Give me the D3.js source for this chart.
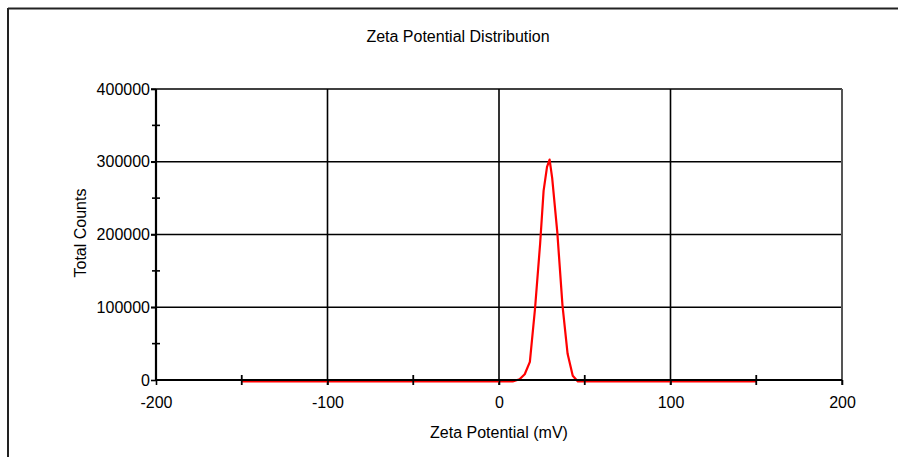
<!DOCTYPE html>
<html><head><meta charset="utf-8">
<script src="https://cdn.jsdelivr.net/npm/d3@7"></script>
<style>body{margin:0;background:#fff}svg{display:block}text{font-family:"Liberation Sans",Arial,sans-serif;fill:#000}</style>
</head><body><svg id="c" width="898" height="457"></svg>
<script>
const zetaMv = [-150, -100, -50, 0, 8, 12, 15, 18, 21, 24, 26, 28, 29.5, 31, 34, 37, 40, 43, 46, 50, 100, 150];
const totalCounts = [0, 0, 0, 0, 0, 3000, 10000, 27000, 100000, 190000, 262000, 295000, 305000, 280000, 205000, 105000, 38000, 8000, 0, 0, 0, 0];
const xTicks = [-200, -100, 0, 100, 200];
const xMinor = [-150, -50, 50, 150];
const yTicks = [0, 100000, 200000, 300000, 400000];
const yMinor = [50000, 150000, 250000, 350000];
const title = "Zeta Potential Distribution";
const xTitle = "Zeta Potential (mV)";
const yTitle = "Total Counts";

const FS = 16;
const svg = d3.select("#c");
const L = 156, R = 842, T = 89, B = 380;
const x = d3.scaleLinear().domain([-200, 200]).range([L, R]);
const y = d3.scaleLinear().domain([0, 400000]).range([B, T]);

// outer frame (top and left only)
svg.append("line").attr("x1", 8).attr("x2", 898).attr("y1", 8.5).attr("y2", 8.5).attr("stroke", "#222").attr("stroke-width", 2);
svg.append("line").attr("x1", 8).attr("x2", 8).attr("y1", 8).attr("y2", 457).attr("stroke", "#222").attr("stroke-width", 2);

// gridlines
const g = svg.append("g");
g.selectAll(".gx").data(xTicks.slice(1, -1)).join("line")
  .attr("x1", d => x(d)).attr("x2", d => x(d)).attr("y1", T).attr("y2", B + 5)
  .attr("stroke", "#000").attr("stroke-width", 1.6);
g.selectAll(".gy").data(yTicks.slice(1)).join("line")
  .attr("x1", L - 5).attr("x2", R).attr("y1", d => y(d)).attr("y2", d => y(d))
  .attr("stroke", "#000").attr("stroke-width", 1.6);
// right edge of plot
g.append("line").attr("x1", R).attr("x2", R).attr("y1", T).attr("y2", B + 5).attr("stroke", "#555").attr("stroke-width", 2);

// curve
const line = d3.line().x((d, i) => x(zetaMv[i])).y((d, i) => y(totalCounts[i]) + 1.5);
svg.append("path").datum(totalCounts).attr("d", line)
  .attr("fill", "none").attr("stroke", "#ff0000").attr("stroke-width", 2.2).attr("stroke-linejoin", "round");

// axes
const fmt = d => String(d);
const xAxis = d3.axisBottom(x).tickValues(xTicks).tickSize(5).tickPadding(12).tickFormat(fmt);
const ax = svg.append("g").attr("transform", `translate(0,${B})`).call(xAxis);
ax.select(".domain").attr("stroke", "#000").attr("stroke-width", 2).attr("d", `M${L},0H${R}`);
ax.selectAll(".tick line").attr("stroke", "#000").attr("stroke-width", 1.6);
ax.selectAll("text").attr("font-size", FS).attr("fill", "#000");
ax.selectAll(".mx").data(xMinor).join("line")
  .attr("x1", d => x(d)).attr("x2", d => x(d)).attr("y1", -5).attr("y2", 5)
  .attr("stroke", "#000").attr("stroke-width", 1.8);

const yAxis = d3.axisLeft(y).tickValues(yTicks).tickSize(5).tickPadding(1).tickFormat(fmt);
const ay = svg.append("g").attr("transform", `translate(${L},0)`).call(yAxis);
ay.select(".domain").attr("stroke", "#000").attr("stroke-width", 2.2).attr("d", `M0,${T}V${B}`);
ay.selectAll(".tick line").attr("stroke", "#000").attr("stroke-width", 1.6);
ay.selectAll("text").attr("font-size", FS).attr("fill", "#000");
ay.selectAll(".my").data(yMinor).join("line")
  .attr("x1", -4).attr("x2", 4).attr("y1", d => y(d)).attr("y2", d => y(d))
  .attr("stroke", "#000").attr("stroke-width", 1.6);

// titles
svg.append("text").attr("x", 458).attr("y", 42).attr("text-anchor", "middle").attr("font-size", FS).text(title);
svg.append("text").attr("x", 499).attr("y", 438).attr("text-anchor", "middle").attr("font-size", FS).text(xTitle);
svg.append("text").attr("transform", "translate(86,233) rotate(-90)").attr("text-anchor", "middle").attr("font-size", FS).text(yTitle);
</script></body></html>
